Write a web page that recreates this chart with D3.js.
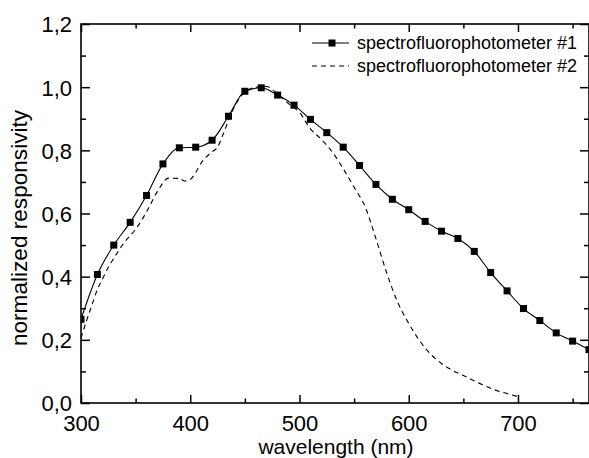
<!DOCTYPE html>
<html lang="en">
<head>
<meta charset="utf-8">
<title>normalized responsivity</title>
<script src="https://d3js.org/d3.v7.min.js"></script>
<style>
  body { margin: 0; background: #fff; }
  svg { display: block; }
  svg text { font-family: "Liberation Sans", Arial, sans-serif; fill: #000; }
  .series1 { fill: none; stroke: #000; stroke-width: 1.1; }
  .series2 { fill: none; stroke: #000; stroke-width: 1.1; stroke-dasharray: 5 4; }
  .tick line { stroke: #000; stroke-width: 1.5; }
</style>
</head>
<body>
<div id="chart"></div>
<script>
// Data
const wl1 = [300, 315, 330, 345, 360, 375, 390, 405, 420, 435, 450, 465, 480, 495, 510, 525,
  540, 555, 570, 585, 600, 615, 630, 645, 660, 675, 690, 705, 720, 735, 750, 765];
const resp1 = [0.265, 0.407, 0.500, 0.572, 0.657, 0.757, 0.808, 0.810, 0.832, 0.908, 0.987, 0.998,
  0.975, 0.943, 0.898, 0.856, 0.810, 0.752, 0.692, 0.645, 0.612, 0.575, 0.544, 0.521, 0.480,
  0.413, 0.355, 0.299, 0.261, 0.222, 0.196, 0.169];

const wl2 = [300, 305, 310, 315, 320, 325, 330, 340, 350, 360, 370, 380, 390, 395, 400, 405, 410,
  420, 425, 430, 440, 450, 460, 470, 480, 490, 500, 510, 520, 530, 540, 550, 560, 570, 580, 590,
  600, 610, 620, 630, 640, 650, 660, 670, 680, 690, 700];
const resp2 = [0.205, 0.26, 0.31, 0.36, 0.395, 0.43, 0.458, 0.51, 0.55, 0.605, 0.67, 0.712, 0.711,
  0.703, 0.708, 0.73, 0.76, 0.795, 0.81, 0.85, 0.935, 0.985, 1.0, 1.002, 0.978, 0.948, 0.92, 0.868,
  0.835, 0.795, 0.742, 0.683, 0.622, 0.52, 0.41, 0.318, 0.252, 0.197, 0.155, 0.125, 0.103, 0.087,
  0.07, 0.054, 0.04, 0.03, 0.02];

const xTicks = [300, 400, 500, 600, 700];
const xMinor = [350, 450, 550, 650, 750];
const yTicks = [0, 0.2, 0.4, 0.6, 0.8, 1.0, 1.2];
const yMinor = [0.1, 0.3, 0.5, 0.7, 0.9, 1.1];
const seriesNames = ["spectrofluorophotometer #1", "spectrofluorophotometer #2"];

// Chart dimensions
const width = 589;
const height = 458;
const margin = { top: 24, right: 0, bottom: 55, left: 81 };
const innerWidth = width - margin.left - margin.right;
const innerHeight = height - margin.top - margin.bottom;

const svg = d3.select("#chart")
  .append("svg")
  .attr("width", width)
  .attr("height", height);

const bounds = svg.append("g")
  .attr("transform", `translate(${margin.left},${margin.top})`);

// Scales
const x = d3.scaleLinear().domain([300, 765]).range([0, innerWidth]);
const y = d3.scaleLinear().domain([0, 1.2]).range([innerHeight, 0]);

const comma = d3.formatLocale({ decimal: ",", thousands: ".", grouping: [3], currency: ["", ""] }).format(".1f");

// Axes (ticks point inward)
function styleAxis(g) {
  g.attr("font-family", null).attr("font-size", null);
  g.select(".domain").remove();
}

bounds.append("g")
  .attr("transform", `translate(0,${innerHeight})`)
  .call(d3.axisBottom(x).tickValues(xTicks).tickSize(-8).tickPadding(12.5).tickFormat(d3.format("d")))
  .call(styleAxis)
  .call(g => g.selectAll("text").attr("font-size", 22));

bounds.append("g")
  .attr("transform", `translate(0,${innerHeight})`)
  .call(d3.axisBottom(x).tickValues(xMinor).tickSize(-4.5).tickFormat(""))
  .call(styleAxis);

bounds.append("g")
  .call(d3.axisTop(x).tickValues(xTicks).tickSize(-8).tickFormat(""))
  .call(styleAxis);

bounds.append("g")
  .call(d3.axisTop(x).tickValues(xMinor).tickSize(-4.5).tickFormat(""))
  .call(styleAxis);

bounds.append("g")
  .call(d3.axisLeft(y).tickValues(yTicks).tickSize(-9).tickPadding(9).tickFormat(comma))
  .call(styleAxis)
  .call(g => g.selectAll("text").attr("font-size", 22).attr("dy", "0.36em"));

bounds.append("g")
  .call(d3.axisLeft(y).tickValues(yMinor).tickSize(-5).tickFormat(""))
  .call(styleAxis);

bounds.append("g")
  .attr("transform", `translate(${innerWidth},0)`)
  .call(d3.axisRight(y).tickValues(yTicks).tickSize(-9).tickFormat(""))
  .call(styleAxis);

bounds.append("g")
  .attr("transform", `translate(${innerWidth},0)`)
  .call(d3.axisRight(y).tickValues(yMinor).tickSize(-5).tickFormat(""))
  .call(styleAxis);

// Frame
bounds.append("rect")
  .attr("width", innerWidth)
  .attr("height", innerHeight)
  .attr("fill", "none")
  .attr("stroke", "#000")
  .attr("stroke-width", 1.6);

// Clip
svg.append("defs").append("clipPath")
  .attr("id", "plot-clip")
  .append("rect")
  .attr("width", innerWidth)
  .attr("height", innerHeight);

const plot = bounds.append("g").attr("clip-path", "url(#plot-clip)");

const data1 = wl1.map((w, i) => ({ w, v: resp1[i] }));
const data2 = wl2.map((w, i) => ({ w, v: resp2[i] }));

const line = d3.line()
  .x(d => x(d.w))
  .y(d => y(d.v))
  .curve(d3.curveMonotoneX);

plot.append("path")
  .datum(data2)
  .attr("class", "series2")
  .attr("d", line);

plot.append("path")
  .datum(data1)
  .attr("class", "series1")
  .attr("d", line);

const size = 7;
plot.selectAll("rect.marker")
  .data(data1)
  .enter()
  .append("rect")
  .attr("class", "marker")
  .attr("x", d => x(d.w) - size / 2)
  .attr("y", d => y(d.v) - size / 2)
  .attr("width", size)
  .attr("height", size)
  .attr("fill", "#000");

// Axis titles
svg.append("text")
  .attr("x", 336)
  .attr("y", 454)
  .attr("text-anchor", "middle")
  .attr("font-size", 21)
  .text("wavelength (nm)");

svg.append("text")
  .attr("transform", "translate(27,228) rotate(-90)")
  .attr("text-anchor", "middle")
  .attr("font-size", 22.6)
  .text("normalized responsivity");

// Legend
const legend = svg.append("g").attr("transform", "translate(312,43)");

legend.append("line")
  .attr("x1", 0).attr("x2", 37).attr("y1", 0).attr("y2", 0)
  .attr("stroke", "#000").attr("stroke-width", 1.1);
legend.append("rect")
  .attr("x", 20 - size / 2).attr("y", -size / 2)
  .attr("width", size).attr("height", size).attr("fill", "#000");
legend.append("line")
  .attr("x1", 0).attr("x2", 37).attr("y1", 23).attr("y2", 23)
  .attr("class", "series2");

legend.selectAll("text")
  .data(seriesNames)
  .enter()
  .append("text")
  .attr("x", 45)
  .attr("y", (d, i) => i * 23)
  .attr("dy", "0.33em")
  .attr("font-size", 18)
  .text(d => d);
</script>
</body>
</html>
